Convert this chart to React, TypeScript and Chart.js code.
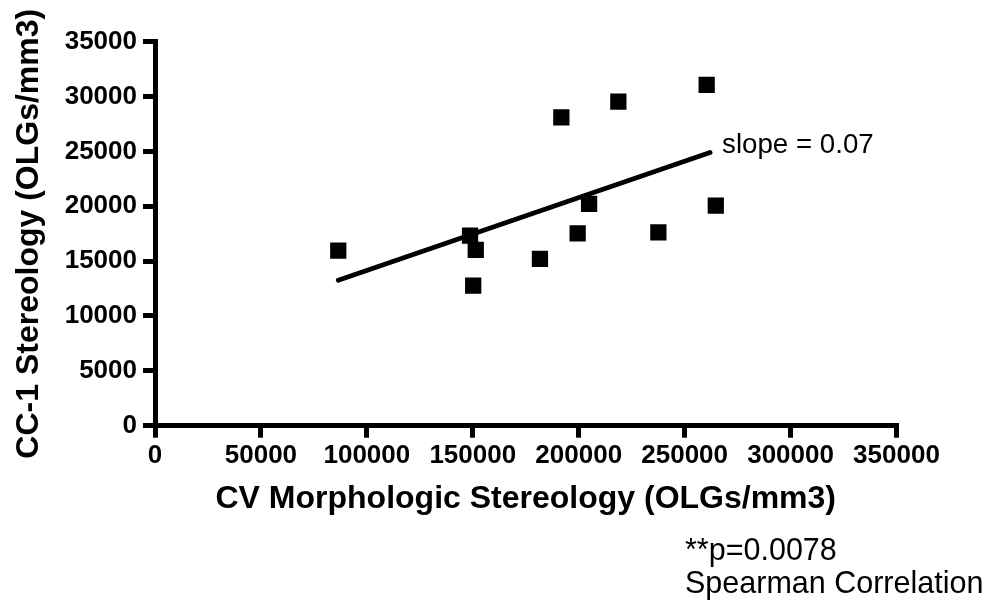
import React, { useEffect, useRef } from 'react';
import { Chart, registerables } from 'chart.js';

Chart.register(...registerables);

// ---- data ----
const cvMorphologic = [86500, 148700, 150200, 151400, 181700, 191800, 199500, 204900, 218700, 237600, 260400, 264700];
const cc1Stereology = [15950, 17320, 12760, 16020, 15200, 28110, 17540, 20210, 29530, 17630, 31060, 20050];
const fitX = [86500, 262000];
const fitY = [13250, 24900];
const xTicks = [0, 50000, 100000, 150000, 200000, 250000, 300000, 350000];
const yTicks = [0, 5000, 10000, 15000, 20000, 25000, 30000, 35000];
const xTitle = 'CV Morphologic Stereology (OLGs/mm3)';
const yTitle = 'CC-1 Stereology (OLGs/mm3)';
const slopeLabel = 'slope = 0.07';
const statLines = ['**p=0.0078', 'Spearman Correlation'];

// ---- layout ----
const W = 997;
const H = 606;
const AREA = { left: 155, top: 41.7, right: 896.5, bottom: 425.7 };
const FONT = '"Liberation Sans", Arial, Helvetica, sans-serif';

const annotations = {
  id: 'annotations',
  afterDraw(chart: any) {
    const ctx = chart.ctx;
    const xs = chart.scales.x;
    const ys = chart.scales.y;
    ctx.save();
    ctx.fillStyle = '#000';
    ctx.textBaseline = 'middle';
    ctx.textAlign = 'left';
    ctx.font = `27.7px ${FONT}`;
    const lx = xs.getPixelForValue(fitX[1]) + 12;
    const ly = ys.getPixelForValue(fitY[1]) - 7;
    ctx.fillText(slopeLabel, lx, ly);
    ctx.font = `30.5px ${FONT}`;
    ctx.fillText(statLines[0], 685, 552);
    ctx.fillText(statLines[1], 685, 585);
    ctx.restore();
  },
};

export default function App() {
  const ref = useRef<HTMLCanvasElement>(null);
  useEffect(() => {
    if (!ref.current) return;
    const tickFont = { family: FONT, size: 26, weight: 'bold' as const };
    const chart = new Chart(ref.current, {
      type: 'scatter',
      data: {
        datasets: [
          {
            label: 'fit',
            data: fitX.map((x, i) => ({ x, y: fitY[i] })),
            showLine: true,
            borderColor: '#000',
            borderWidth: 4.8,
            borderCapStyle: 'round',
            pointRadius: 0,
            backgroundColor: '#000',
          },
          {
            label: 'points',
            data: cvMorphologic.map((x, i) => ({ x, y: cc1Stereology[i] })),
            pointStyle: 'rect',
            pointRadius: 11.5,
            pointBorderWidth: 0,
            backgroundColor: '#000',
            borderColor: '#000',
            borderWidth: 0,
          },
        ],
      },
      options: {
        animation: false,
        responsive: true,
        maintainAspectRatio: false,
        devicePixelRatio: 1,
        layout: { padding: { left: 0, top: AREA.top, right: W - AREA.right, bottom: 0 } },
        plugins: { legend: { display: false }, tooltip: { enabled: false } },
        scales: {
          x: {
            type: 'linear',
            min: 0,
            max: 350000,
            afterBuildTicks: (s: any) => {
              s.ticks = xTicks.map((v) => ({ value: v }));
            },
            afterFit: (s: any) => {
              s.height = H - AREA.bottom;
            },
            ticks: {
              callback: (v: any) => String(v),
              font: tickFont,
              color: '#000',
              padding: 3,
              maxRotation: 0,
              autoSkip: false,
            },
            grid: { display: true, drawOnChartArea: false, drawTicks: true, tickLength: 12, lineWidth: 5, color: '#000' },
            border: { display: true, width: 5, color: '#000' },
            title: {
              display: true,
              text: xTitle,
              color: '#000',
              font: { family: FONT, size: 32, weight: 'bold' },
              padding: { top: 0, bottom: 88 },
            },
          },
          y: {
            type: 'linear',
            min: 0,
            max: 35000,
            afterBuildTicks: (s: any) => {
              s.ticks = yTicks.map((v) => ({ value: v }));
            },
            afterFit: (s: any) => {
              s.width = AREA.left;
            },
            ticks: {
              callback: (v: any) => String(v),
              font: tickFont,
              color: '#000',
              padding: 6,
              autoSkip: false,
            },
            grid: { display: true, drawOnChartArea: false, drawTicks: true, tickLength: 12, lineWidth: 5, color: '#000' },
            border: { display: true, width: 5, color: '#000' },
            title: {
              display: true,
              text: yTitle,
              color: '#000',
              font: { family: FONT, size: 32, weight: 'bold' },
              padding: { top: 10, bottom: 0 },
            },
          },
        },
      },
      plugins: [annotations],
    } as any);
    return () => chart.destroy();
  }, []);

  return (
    <div style={{ position: 'fixed', left: 0, top: 0, width: W, height: H, background: '#fff' }}>
      <canvas ref={ref} />
    </div>
  );
}
